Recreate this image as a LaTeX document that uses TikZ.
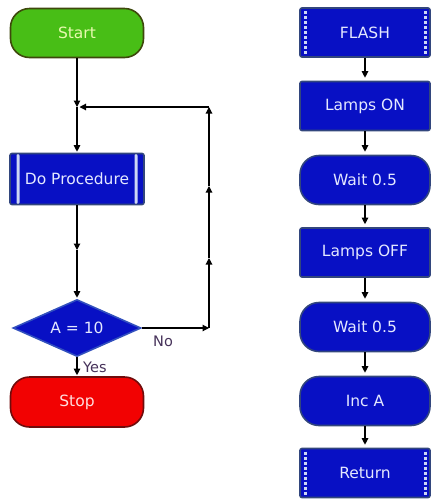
\documentclass[tikz,border=0pt]{standalone}
\usepackage{fontspec}
\setmainfont{DejaVu Sans}
\usetikzlibrary{shapes.geometric,arrows.meta,calc}
\definecolor{fillblue}{RGB}{8,16,196}
\definecolor{edgeblue}{RGB}{50,70,125}
\definecolor{diaedge}{RGB}{50,80,190}
\definecolor{txtblue}{RGB}{228,232,255}
\definecolor{fillgreen}{RGB}{72,190,22}
\definecolor{edgegreen}{RGB}{62,72,12}
\definecolor{txtgreen}{RGB}{232,250,175}
\definecolor{fillred}{RGB}{242,2,2}
\definecolor{edgered}{RGB}{112,12,12}
\definecolor{txtred}{RGB}{255,222,222}
\definecolor{stripecol}{RGB}{205,215,245}
\definecolor{lblcol}{RGB}{70,50,90}
\begin{document}
\begin{tikzpicture}[x=1pt,y=-1pt,
  base/.style={draw, line width=1.6pt, inner sep=0pt, font=\fontsize{15.5}{18}\selectfont},
  bluebox/.style={base, rectangle, fill=fillblue, draw=edgeblue, text=txtblue,
    minimum width=130pt, minimum height=49pt, rounded corners=2pt},
  bluepill/.style={bluebox, rounded corners=19pt},
  greenpill/.style={base, rectangle, fill=fillgreen, draw=edgegreen, text=txtgreen,
    minimum width=133pt, minimum height=49pt, rounded corners=19pt},
  redpill/.style={base, rectangle, fill=fillred, draw=edgered, text=txtred,
    minimum width=133pt, minimum height=50pt, rounded corners=19pt},
  procbox/.style={bluebox, minimum width=134pt, minimum height=51pt,
    path picture={
      \fill[stripecol] ([xshift=6.5pt]path picture bounding box.north west) rectangle ([xshift=9.5pt]path picture bounding box.south west);
      \fill[stripecol] ([xshift=-6.5pt]path picture bounding box.north east) rectangle ([xshift=-9.5pt]path picture bounding box.south east);}},
  subbox/.style={bluebox,
    path picture={
      \draw[stripecol, line width=3pt, dash pattern=on 3pt off 2pt] ([xshift=5pt,yshift=-3pt]path picture bounding box.north west) -- ([xshift=5pt,yshift=3pt]path picture bounding box.south west);
      \draw[stripecol, line width=3pt, dash pattern=on 3pt off 2pt] ([xshift=-5pt,yshift=-3pt]path picture bounding box.north east) -- ([xshift=-5pt,yshift=3pt]path picture bounding box.south east);}},
  decision/.style={base, diamond, aspect=2.2, fill=fillblue, draw=diaedge, text=txtblue,
    minimum width=128pt, minimum height=57pt},
  arr/.style={-{Triangle[length=6.5pt,width=6.5pt]}, line width=1.1pt, black},
  lbl/.style={inner sep=0pt, anchor=west, text=lblcol, font=\fontsize{14.5}{17}\selectfont}
]
\useasboundingbox (0,0) rectangle (431,499);

% left flowchart
\node[greenpill] (start) at (77,33) {Start};
\node[procbox] (proc) at (77,179) {Do Procedure};
\node[decision] (dec) at (77,328) {A = 10};
\node[redpill] (stop) at (77,402) {Stop};

\coordinate (join) at (77,107);
\coordinate (m1) at (77,250);
\coordinate (c1) at (209,328);
\coordinate (u1) at (209,258);
\coordinate (u2) at (209,186);
\coordinate (c2) at (209,107);

\draw[arr] (start) -- (join);
\draw[arr, shorten >=1pt] (join) -- (proc);
\draw[arr] (proc) -- (m1);
\draw[arr, shorten >=1pt] (m1) -- (dec);
\draw[arr] (dec) -- (c1);
\draw[arr] (c1) -- (u1);
\draw[arr] (u1) -- (u2);
\draw[arr] (u2) -- (c2);
\draw[arr, shorten >=2.5pt] (c2) -- (join);
\draw[arr, shorten >=1pt] (dec) -- (stop);

\node[lbl] (no) at (153,341) {No};
\node[lbl] (yes) at (83,367) {Yes};

% right flowchart
\node[subbox] (flash) at (365,32.5) {FLASH};
\node[bluebox] (lon) at (365,106) {Lamps ON};
\node[bluepill] (w1) at (365,180) {Wait 0.5};
\node[bluebox] (loff) at (365,252.5) {Lamps OFF};
\node[bluepill] (w2) at (365,327) {Wait 0.5};
\node[bluepill] (inca) at (365,401) {Inc A};
\node[subbox] (ret) at (365,473) {Return};

\draw[arr, shorten >=3pt] (flash) -- (lon);
\draw[arr, shorten >=3pt] (lon) -- (w1);
\draw[arr, shorten >=3pt] (w1) -- (loff);
\draw[arr, shorten >=3pt] (loff) -- (w2);
\draw[arr, shorten >=3pt] (w2) -- (inca);
\draw[arr, shorten >=3pt] (inca) -- (ret);
\end{tikzpicture}
\end{document}
